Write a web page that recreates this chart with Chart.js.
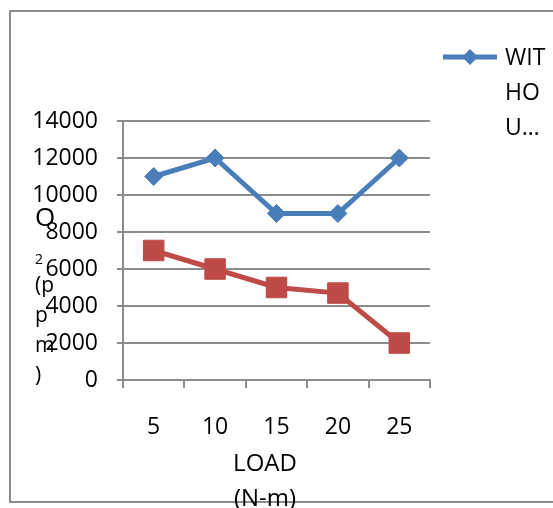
<!DOCTYPE html>
<html>
<head>
<meta charset="utf-8">
<script src="https://cdn.jsdelivr.net/npm/chart.js@4"></script>
<style>
html, body { margin: 0; padding: 0; background: #fff; }
</style>
</head>
<body>
<canvas id="o2Chart" width="553" height="508"></canvas>
<script>
const loads = ['5', '10', '15', '20', '25'];
const withoutValues = [11000, 12000, 9000, 9000, 12000];
const withValues = [7000, 6000, 5000, 4700, 2000];
const yMin = 0;
const yMax = 14000;
const yStep = 2000;
const legendLines = ['WIT', 'HO', 'U…'];
const yTitleLines = ['O', '2', '(p', 'p', 'm', ')'];
const xTitleLines = ['LOAD', '(N-m)'];

const blue = '#4A7EBB';
const red = '#BE4B48';
const gray = '#8C8C8C';
const font = '"Open Sans", sans-serif';

// excel-ish frame, titles and the clipped legend
const decorations = {
  id: 'decorations',
  afterDraw(chart) {
    const c = chart.ctx;
    c.save();

    c.strokeStyle = gray;
    c.lineWidth = 2;
    c.beginPath();
    c.moveTo(600, 11);
    c.lineTo(10, 11);
    c.lineTo(10, 502);
    c.lineTo(600, 502);
    c.stroke();

    c.fillStyle = '#000';
    c.textAlign = 'left';
    c.textBaseline = 'middle';
    const yTitlePos = [219, 260, 286, 316, 346, 376];
    const yTitleSize = [26, 14, 21, 21, 21, 21];
    yTitleLines.forEach((t, i) => {
      c.font = yTitleSize[i] + 'px ' + font;
      c.fillText(t, 35, yTitlePos[i]);
    });

    c.textAlign = 'center';
    c.font = '24px ' + font;
    xTitleLines.forEach((t, i) => {
      c.fillText(t, 265, 464 + i * 35);
    });

    const ds = chart.data.datasets[0];
    c.strokeStyle = ds.borderColor;
    c.lineWidth = 5;
    c.beginPath();
    c.moveTo(443, 57);
    c.lineTo(497, 57);
    c.stroke();
    c.fillStyle = ds.backgroundColor;
    c.beginPath();
    c.moveTo(462, 57);
    c.lineTo(470, 49);
    c.lineTo(478, 57);
    c.lineTo(470, 65);
    c.closePath();
    c.fill();

    c.fillStyle = '#000';
    c.textAlign = 'left';
    c.font = '23px ' + font;
    legendLines.forEach((t, i) => {
      c.fillText(t, 505, 58 + i * 35);
    });

    c.restore();
  }
};

const ctx = document.getElementById('o2Chart').getContext('2d');

const o2Chart = new Chart(ctx, {
  type: 'line',
  data: {
    labels: loads,
    datasets: [{
      label: 'WITHOUT',
      data: withoutValues,
      borderColor: blue,
      backgroundColor: blue,
      borderWidth: 5,
      pointStyle: 'rectRot',
      pointRadius: 9,
      pointBorderWidth: 1,
      tension: 0
    }, {
      label: 'WITH',
      data: withValues,
      borderColor: red,
      backgroundColor: red,
      borderWidth: 5,
      pointStyle: 'rect',
      pointRadius: 14.5,
      pointBorderWidth: 1,
      tension: 0
    }]
  },
  options: {
    responsive: false,
    animation: false,
    layout: {
      padding: { left: 0, top: 121, right: 123, bottom: 0 }
    },
    plugins: {
      legend: { display: false },
      tooltip: { enabled: false }
    },
    scales: {
      x: {
        offset: true,
        grid: {
          offset: true,
          drawOnChartArea: false,
          color: gray,
          lineWidth: 2,
          tickLength: 8
        },
        border: { color: gray, width: 2 },
        ticks: {
          color: '#000',
          font: { family: font, size: 23 },
          padding: 26,
          maxRotation: 0
        },
        afterFit(scale) { scale.height = 128; }
      },
      y: {
        min: yMin,
        max: yMax,
        grid: {
          color: gray,
          lineWidth: 2,
          tickLength: 6
        },
        border: { color: gray, width: 2 },
        ticks: {
          stepSize: yStep,
          color: '#000',
          font: { family: font, size: 23 },
          padding: 19,
          callback: v => String(v)
        },
        afterFit(scale) { scale.width = 123; }
      }
    }
  },
  plugins: [decorations]
});
</script>
</body>
</html>
